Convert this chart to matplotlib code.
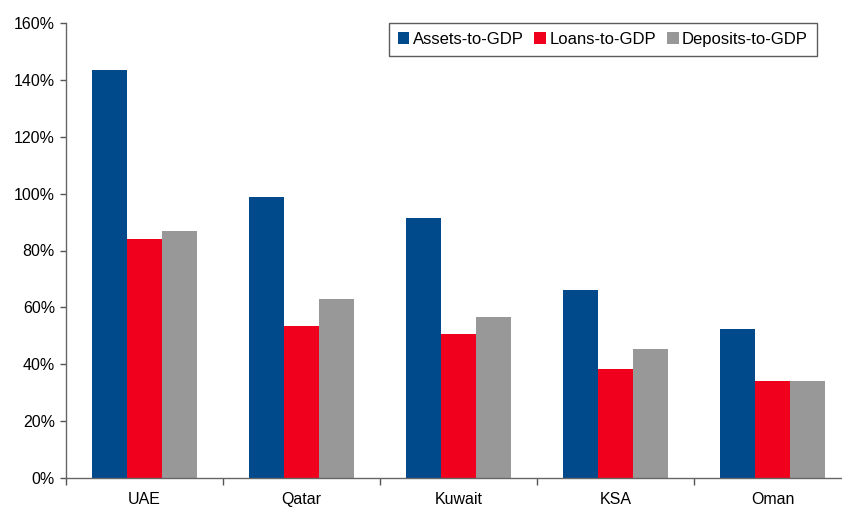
import numpy as np
import matplotlib.pyplot as plt
from matplotlib.ticker import PercentFormatter

plt.rcParams['font.family'] = ['Liberation Sans', 'DejaVu Sans']

# --- Data: banking depth ratios (% of GDP) ---
countries = ['UAE', 'Qatar', 'Kuwait', 'KSA', 'Oman']
assets = [143.5, 98.8, 91.4, 66.1, 52.4]
loans = [84.0, 53.4, 50.6, 38.3, 34.1]
deposits = [86.8, 62.9, 56.6, 45.4, 34.1]

series = ['Assets-to-GDP', 'Loans-to-GDP', 'Deposits-to-GDP']
colors = ['#004A8C', '#F0001C', '#989898']

fig = plt.figure(figsize=(8.42, 5.08), dpi=100)
# right edge runs past the figure, so the last category is clipped
ax = fig.add_axes([66 / 842, 30 / 508, 785 / 842, 455 / 508])

x = np.arange(len(countries))
w = 0.223
for i, (vals, lab, c) in enumerate(zip([assets, loans, deposits], series, colors)):
    ax.bar(x + (i - 1) * w, vals, width=w, color=c, label=lab, zorder=2)

ax.set_xlim(-0.5, len(countries) - 0.5)
ax.set_ylim(0, 160)
ax.set_yticks(np.arange(0, 161, 20))
ax.yaxis.set_major_formatter(PercentFormatter(decimals=0))

ax.set_xticks(x)
ax.set_xticklabels(countries)
ax.set_xticks(np.arange(-0.5, len(countries), 1), minor=True)
ax.tick_params(axis='x', which='major', length=0, pad=10, labelsize=11.5)
ax.tick_params(axis='x', which='minor', length=5, color='#555555', width=1)
ax.tick_params(axis='y', length=4, color='#555555', width=1, labelsize=11.5, pad=4)

for s in ['top', 'right']:
    ax.spines[s].set_visible(False)
for s in ['left', 'bottom']:
    ax.spines[s].set_color('#666666')
    ax.spines[s].set_linewidth(1)

leg = ax.legend(loc='upper right', bbox_to_anchor=((817 - 66) / 785, 1.0), ncol=3,
                fontsize=12, frameon=True, fancybox=False, edgecolor='#333333',
                handlelength=0.7, handleheight=0.7, handletextpad=0.2,
                columnspacing=0.65, borderpad=0.55, borderaxespad=0.0)
leg.get_frame().set_linewidth(1)

fig.savefig('out.png', dpi=100)
